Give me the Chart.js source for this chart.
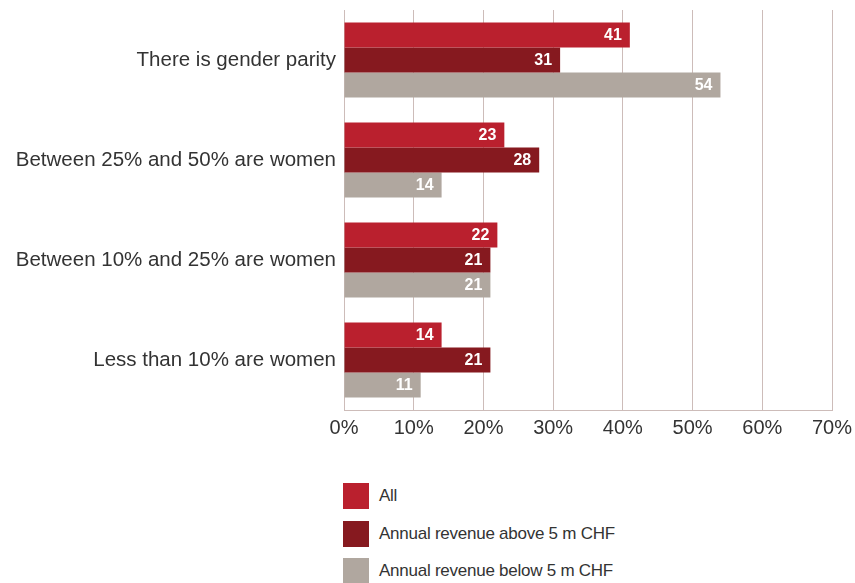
<!DOCTYPE html>
<html>
<head>
<meta charset="utf-8">
<script src="https://cdn.jsdelivr.net/npm/chart.js@4.4.1/dist/chart.umd.min.js"></script>
<style>
  html, body { margin: 0; padding: 0; background: #fff; }
  #wrap { position: relative; width: 855px; height: 583px; }
  #chart-box { position: absolute; left: 0; top: 0; width: 855px; height: 446px; }
  #legend { position: absolute; left: 343px; top: 483px; font-family: 'Liberation Sans', Arial, sans-serif; font-size: 17px; color: #333; letter-spacing: -0.25px; }
  #legend .item { display: flex; align-items: center; height: 26px; margin-bottom: 11.5px; }
  #legend .box { width: 26px; height: 26px; margin-right: 10px; }
</style>
</head>
<body>
<div id="wrap">
  <div id="chart-box"><canvas id="parityChart"></canvas></div>
  <div id="legend"></div>
</div>
<script>
const categories = [
  'There is gender parity',
  'Between 25% and 50% are women',
  'Between 10% and 25% are women',
  'Less than 10% are women'
];

const allCompanies = [41, 23, 22, 14];
const revenueAbove5m = [31, 28, 21, 21];
const revenueBelow5m = [54, 14, 21, 11];

const seriesNames = ['All', 'Annual revenue above 5 m CHF', 'Annual revenue below 5 m CHF'];
const seriesColors = ['#ba202e', '#86191f', '#b0a79f'];

const percentTicks = [0, 10, 20, 30, 40, 50, 60, 70];

const gridColor = '#cdbcb9';
const fontFamily = "'Liberation Sans', Arial, sans-serif";

// writes each value inside the end of its bar
const barValueLabels = {
  id: 'barValueLabels',
  afterDatasetsDraw(chart) {
    const ctx = chart.ctx;
    ctx.save();
    ctx.font = 'bold 16px ' + fontFamily;
    ctx.fillStyle = '#ffffff';
    ctx.textAlign = 'right';
    ctx.textBaseline = 'middle';
    chart.data.datasets.forEach((ds, i) => {
      chart.getDatasetMeta(i).data.forEach((bar, j) => {
        ctx.fillText(String(ds.data[j]), bar.x - 8, bar.y + 1);
      });
    });
    ctx.restore();
  }
};

const ctx = document.getElementById('parityChart');

new Chart(ctx, {
  type: 'bar',
  data: {
    labels: categories,
    datasets: [
      { label: seriesNames[0], data: allCompanies, backgroundColor: seriesColors[0] },
      { label: seriesNames[1], data: revenueAbove5m, backgroundColor: seriesColors[1] },
      { label: seriesNames[2], data: revenueBelow5m, backgroundColor: seriesColors[2] }
    ]
  },
  options: {
    indexAxis: 'y',
    responsive: true,
    maintainAspectRatio: false,
    animation: false,
    datasets: {
      bar: {
        categoryPercentage: 0.75,
        barPercentage: 1.0
      }
    },
    layout: {
      padding: { top: 10, right: 23, left: 0, bottom: 0 }
    },
    plugins: {
      legend: { display: false },
      tooltip: { enabled: false }
    },
    scales: {
      x: {
        min: 0,
        max: 70,
        afterBuildTicks(scale) {
          scale.ticks = percentTicks.map(v => ({ value: v }));
        },
        afterFit(scale) {
          scale.paddingLeft = 0;
          scale.paddingRight = 0;
        },
        ticks: {
          color: '#333',
          font: { family: fontFamily, size: 20 },
          padding: 6,
          callback: v => v + '%'
        },
        grid: {
          color: gridColor,
          drawTicks: false
        },
        border: { color: gridColor }
      },
      y: {
        afterFit(scale) {
          scale.width = 344;
          scale.paddingTop = 0;
          scale.paddingBottom = 0;
        },
        ticks: {
          color: '#333',
          font: { family: fontFamily, size: 20.5 },
          padding: 8
        },
        grid: { display: false, drawTicks: false },
        border: { color: gridColor }
      }
    }
  },
  plugins: [barValueLabels]
});

// legend stacked below the chart
const legendEl = document.getElementById('legend');
seriesNames.forEach((name, i) => {
  const item = document.createElement('div');
  item.className = 'item';
  const box = document.createElement('span');
  box.className = 'box';
  box.style.background = seriesColors[i];
  const text = document.createElement('span');
  text.textContent = name;
  item.appendChild(box);
  item.appendChild(text);
  legendEl.appendChild(item);
});
</script>
</body>
</html>
